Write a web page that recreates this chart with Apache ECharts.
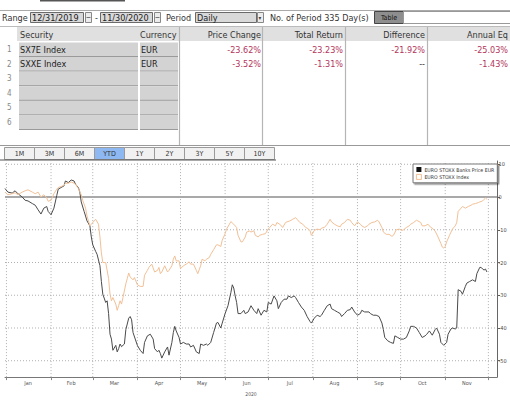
<!DOCTYPE html>
<html><head><meta charset="utf-8">
<script src="https://cdn.jsdelivr.net/npm/echarts@6/dist/echarts.min.js"></script>
<style>html,body{margin:0;padding:0;background:#fff}#c{width:510px;height:401px}</style>
</head><body><div id="c"></div>
<script>
// ---------- data ----------
const seriesNames = ['EURO STOXX Banks Price EUR', 'EURO STOXX Index'];
const monthLabels = ['Jan','Feb','Mar','Apr','May','Jun','Jul','Aug','Sep','Oct','Nov'];
const monthTickDates = ['2020-01-01','2020-02-01','2020-03-01','2020-04-01','2020-05-01','2020-06-01','2020-07-01','2020-08-01','2020-09-01','2020-10-01','2020-11-01','2020-12-01'];
const monthLabelDates = ['2020-01-16','2020-02-15','2020-03-16','2020-04-16','2020-05-16','2020-06-16','2020-07-16','2020-08-16','2020-09-16','2020-10-16','2020-11-16'];
const yTickValues = [10, 0, -10, -20, -30, -40, -50];
const yearLabel = '2020';

const banksDates = ['2019-12-31','2020-01-02','2020-01-05','2020-01-07','2020-01-09','2020-01-12','2020-01-14','2020-01-16','2020-01-19','2020-01-21','2020-01-23','2020-01-25','2020-01-27','2020-01-29','2020-01-30',
'2020-02-01','2020-02-03','2020-02-05','2020-02-06','2020-02-08','2020-02-10','2020-02-11','2020-02-13','2020-02-15','2020-02-17','2020-02-18','2020-02-20','2020-02-21','2020-02-22','2020-02-24','2020-02-25','2020-02-26','2020-02-28','2020-02-29',
'2020-03-01','2020-03-03','2020-03-04','2020-03-06','2020-03-07','2020-03-08','2020-03-10','2020-03-11','2020-03-12','2020-03-13','2020-03-14','2020-03-15','2020-03-17','2020-03-18','2020-03-19','2020-03-20','2020-03-21','2020-03-23','2020-03-24','2020-03-26','2020-03-27','2020-03-28','2020-03-29',
'2020-04-01','2020-04-03','2020-04-05','2020-04-06','2020-04-08','2020-04-10','2020-04-12','2020-04-13','2020-04-15','2020-04-16','2020-04-17','2020-04-18','2020-04-20','2020-04-22','2020-04-23','2020-04-25','2020-04-26','2020-04-27','2020-04-28','2020-04-30',
'2020-05-01','2020-05-03','2020-05-05','2020-05-07','2020-05-08','2020-05-10','2020-05-12','2020-05-14','2020-05-15','2020-05-17','2020-05-19','2020-05-20','2020-05-22','2020-05-24','2020-05-26','2020-05-27','2020-05-29','2020-05-30',
'2020-06-01','2020-06-03','2020-06-05','2020-06-06','2020-06-07','2020-06-08','2020-06-09','2020-06-10','2020-06-12','2020-06-14','2020-06-15','2020-06-17','2020-06-19','2020-06-21','2020-06-23','2020-06-24','2020-06-26','2020-06-28','2020-06-30',
'2020-07-01','2020-07-03','2020-07-05','2020-07-07','2020-07-08','2020-07-10','2020-07-12','2020-07-14','2020-07-15','2020-07-17','2020-07-19','2020-07-20','2020-07-22','2020-07-24','2020-07-26','2020-07-28','2020-07-30','2020-07-31',
'2020-08-02','2020-08-04','2020-08-06','2020-08-07','2020-08-09','2020-08-11','2020-08-13','2020-08-14','2020-08-16','2020-08-18','2020-08-20','2020-08-21','2020-08-23','2020-08-25','2020-08-27','2020-08-28','2020-08-30',
'2020-09-01','2020-09-03','2020-09-04','2020-09-06','2020-09-09','2020-09-10','2020-09-12','2020-09-14','2020-09-16','2020-09-18','2020-09-19','2020-09-20','2020-09-22','2020-09-24','2020-09-26','2020-09-27','2020-09-29',
'2020-10-01','2020-10-03','2020-10-05','2020-10-07','2020-10-08','2020-10-10','2020-10-12','2020-10-14','2020-10-16','2020-10-18','2020-10-19','2020-10-21','2020-10-23','2020-10-25','2020-10-26','2020-10-28','2020-10-29','2020-10-31',
'2020-11-02','2020-11-03','2020-11-05','2020-11-06','2020-11-08','2020-11-09','2020-11-10','2020-11-12','2020-11-13','2020-11-15','2020-11-16','2020-11-18','2020-11-20','2020-11-22','2020-11-23','2020-11-25','2020-11-26','2020-11-27','2020-11-28','2020-11-29','2020-11-30'];
const banksValues = [2.6,1.5,1.2,1.9,1.0,0,-1.0,-1.2,-2.0,-2.5,-3.9,-5.2,-3.4,-2.9,-4.4,
-5.4,-3.4,0.5,2.4,2.9,3.4,4.9,4.4,5.2,4.9,3.9,2.9,1.5,-1.5,-4.4,-5.8,-7.3,-8.8,-12.2,
-14.6,-16.6,-17.5,-21.0,-25.8,-29.7,-32.2,-31.7,-35.6,-41.9,-43.4,-46.8,-45.3,-47.3,-46.3,-44.9,-45.7,-44.9,-40.5,-37.0,-36.5,-37.5,-41.4,
-45.3,-46.8,-47.8,-44.4,-42.4,-41.9,-43.4,-46.3,-47.3,-46.8,-47.8,-49.2,-47.3,-45.8,-48.3,-44.4,-41.4,-39.5,-40.9,-42.9,
-44.9,-44.4,-44.9,-44.9,-45.8,-45.3,-47.3,-47.8,-44.9,-45.3,-44.9,-45.3,-44.4,-41.4,-38.5,-38.3,-40.0,-38.5,
-35.6,-33.2,-29.2,-26.8,-27.8,-30.2,-32.2,-35.6,-35.6,-34.6,-35.6,-35.1,-33.2,-34.6,-35.6,-34.1,-36.1,-34.6,-35.1,
-32.2,-32.7,-30.2,-31.7,-34.1,-32.2,-31.2,-31.2,-30.2,-30.7,-30.2,-30.7,-32.2,-33.6,-34.6,-36.5,-38.0,-38.5,
-37.0,-36.1,-36.5,-36.1,-34.6,-33.2,-32.7,-34.1,-34.6,-35.1,-35.6,-36.5,-35.6,-34.6,-34.4,-33.6,-35.1,
-36.1,-35.6,-34.6,-35.1,-35.1,-35.6,-36.1,-36.1,-36.5,-38.5,-40.5,-42.9,-43.9,-44.4,-44.7,-42.4,-42.9,
-43.4,-43.4,-42.9,-40.9,-39.5,-39.5,-40.0,-41.4,-42.9,-42.4,-42.0,-40.9,-42.2,-40.5,-40.0,-41.9,-44.4,-45.3,
-44.4,-41.9,-40.3,-40.0,-40.3,-40.0,-28.3,-28.8,-29.7,-27.3,-26.3,-25.8,-25.3,-25.8,-23.4,-21.5,-21.5,-22.0,-22.3,-22.0,-22.9];

const indexDates = ['2019-12-31','2020-01-02','2020-01-05','2020-01-07','2020-01-09','2020-01-12','2020-01-14','2020-01-16','2020-01-19','2020-01-21','2020-01-23','2020-01-25','2020-01-27','2020-01-29','2020-01-30',
'2020-02-01','2020-02-03','2020-02-05','2020-02-06','2020-02-08','2020-02-10','2020-02-11','2020-02-13','2020-02-15','2020-02-17','2020-02-18','2020-02-20','2020-02-22','2020-02-23','2020-02-25','2020-02-26','2020-02-28','2020-02-29',
'2020-03-02','2020-03-03','2020-03-05','2020-03-06','2020-03-07','2020-03-08','2020-03-10','2020-03-12','2020-03-13','2020-03-14','2020-03-15','2020-03-17','2020-03-18','2020-03-19','2020-03-20','2020-03-21','2020-03-22','2020-03-24','2020-03-25','2020-03-26','2020-03-27','2020-03-29','2020-03-30',
'2020-04-01','2020-04-03','2020-04-05','2020-04-06','2020-04-08','2020-04-09','2020-04-11','2020-04-13','2020-04-15','2020-04-16','2020-04-17','2020-04-18','2020-04-20','2020-04-22','2020-04-23','2020-04-25','2020-04-26','2020-04-27','2020-04-28','2020-04-30',
'2020-05-01','2020-05-03','2020-05-05','2020-05-07','2020-05-08','2020-05-10','2020-05-12','2020-05-13','2020-05-15','2020-05-16','2020-05-18','2020-05-19','2020-05-21','2020-05-22','2020-05-24','2020-05-26','2020-05-27','2020-05-29','2020-05-30',
'2020-06-01','2020-06-02','2020-06-04','2020-06-05','2020-06-07','2020-06-09','2020-06-10','2020-06-12','2020-06-13','2020-06-15','2020-06-16','2020-06-18','2020-06-19','2020-06-21','2020-06-22','2020-06-24','2020-06-25','2020-06-27','2020-06-29',
'2020-07-01','2020-07-02','2020-07-04','2020-07-06','2020-07-07','2020-07-09','2020-07-11','2020-07-13','2020-07-14','2020-07-16','2020-07-18','2020-07-20','2020-07-21','2020-07-23','2020-07-25','2020-07-27','2020-07-28','2020-07-30','2020-07-31',
'2020-08-02','2020-08-04','2020-08-06','2020-08-07','2020-08-09','2020-08-11','2020-08-13','2020-08-14','2020-08-16','2020-08-18','2020-08-20','2020-08-21','2020-08-23','2020-08-25','2020-08-27','2020-08-28','2020-08-30',
'2020-09-01','2020-09-03','2020-09-04','2020-09-06','2020-09-08','2020-09-09','2020-09-11','2020-09-13','2020-09-15','2020-09-16','2020-09-18','2020-09-19','2020-09-21','2020-09-23','2020-09-25','2020-09-26','2020-09-28','2020-09-30',
'2020-10-02','2020-10-03','2020-10-05','2020-10-07','2020-10-08','2020-10-10','2020-10-12','2020-10-13','2020-10-15','2020-10-16','2020-10-18','2020-10-20','2020-10-22','2020-10-23','2020-10-25','2020-10-27','2020-10-29','2020-10-30','2020-10-31',
'2020-11-01','2020-11-02','2020-11-04','2020-11-06','2020-11-08','2020-11-09','2020-11-10','2020-11-12','2020-11-13','2020-11-15','2020-11-17','2020-11-19','2020-11-20','2020-11-22','2020-11-24','2020-11-25','2020-11-27','2020-11-28','2020-11-29','2020-11-30'];
const indexValues = [1.5,0.7,1.0,1.3,0.7,1.5,1.9,2.2,1.5,1.0,1.5,0.0,0.7,-0.3,-1.3,
-1.0,1.0,2.4,2.9,3.2,3.6,4.2,4.2,4.6,4.2,3.9,2.6,0.7,-1.0,-3.4,-5.8,-8.8,-8.3,
-7.3,-6.8,-8.3,-12.2,-17.1,-20.0,-20.0,-24.9,-29.7,-31.7,-30.7,-32.7,-34.6,-33.2,-31.7,-32.7,-30.7,-26.5,-24.9,-23.2,-24.4,-25.3,-24.6,
-26.8,-27.3,-27.3,-23.9,-22.4,-21.5,-20.5,-22.9,-22.4,-21.5,-23.4,-22.9,-21.0,-22.9,-22.4,-21.0,-19.0,-18.0,-19.5,-19.5,
-21.9,-21.0,-20.5,-19.8,-20.5,-20.5,-22.4,-23.4,-21.0,-19.0,-19.5,-19.0,-18.5,-17.5,-16.1,-14.6,-14.6,-15.1,-13.2,
-11.2,-9.8,-8.3,-7.5,-8.3,-9.3,-11.7,-13.7,-13.7,-12.2,-10.7,-10.4,-10.7,-10.3,-11.7,-12.2,-11.7,-11.4,-11.2,
-9.8,-9.3,-8.3,-8.8,-7.8,-8.3,-9.3,-7.8,-7.6,-7.3,-6.8,-6.3,-6.8,-7.8,-8.3,-9.3,-9.5,-10.2,-11.7,
-10.2,-9.8,-10.0,-9.5,-9.3,-8.3,-6.8,-7.6,-8.3,-8.8,-9.1,-8.3,-7.8,-6.8,-7.1,-7.8,-8.8,
-7.6,-8.3,-8.8,-9.3,-8.8,-8.3,-7.8,-7.6,-7.1,-7.6,-9.3,-10.7,-11.4,-11.4,-12.0,-11.7,-10.0,-9.8,
-10.2,-10.0,-9.3,-8.8,-8.3,-7.8,-7.1,-7.3,-7.8,-8.8,-8.8,-8.3,-9.3,-9.5,-10.4,-12.2,-14.2,-15.3,-15.6,
-15.1,-13.7,-11.7,-9.8,-8.8,-7.8,-4.4,-3.4,-2.9,-3.4,-2.9,-2.5,-2.2,-2.0,-1.7,-1.5,-1.2,-0.7,-0.3,-0.7];

// header / table texts
const rangeStart = '12/31/2019', rangeEnd = '11/30/2020', periodValue = 'Daily', periodCount = 'No. of Period 335 Day(s)';
const tableHeaders = ['Security','Currency','Price Change','Total Return','Difference','Annual Eq'];
const tableRows = [
  ['SX7E Index','EUR','-23.62%','-23.23%','-21.92%','-25.03%'],
  ['SXXE Index','EUR','-3.52%','-1.31%','--','-1.43%']
];
const rowNumbers = ['1','2','3','4','5','6'];
const periodButtons = ['1M','3M','6M','YTD','1Y','2Y','3Y','5Y','10Y'];
const activeButton = 'YTD';

// ---------- helpers ----------
function ts(s){const p=s.split('-').map(Number);return Date.UTC(p[0],p[1]-1,p[2]);}
const F = '"Liberation Sans Narrow","DejaVu Sans Condensed","Liberation Sans",sans-serif';
const G = [];
function rect(x,y,w,h,fill,stroke,lw){G.push({type:'rect',silent:true,shape:{x:x,y:y,width:w,height:h},style:{fill:fill||'none',stroke:stroke||'none',lineWidth:lw||1}});}
function line(x1,y1,x2,y2,stroke,lw){G.push({type:'line',silent:true,shape:{x1:x1,y1:y1,x2:x2,y2:y2},style:{stroke:stroke,lineWidth:lw||1}});}
function text(str,x,y,size,fill,align){G.push({type:'text',silent:true,x:x,y:y,style:{text:str,fill:fill||'#333',font:size+'px '+F,align:align||'left',verticalAlign:'middle',textAlign:align||'left',textVerticalAlign:'middle'}});}

// ---------- top panel ----------
line(40,0.8,125,0.8,'#555',1.5);
line(0,10.5,510,10.5,'#aaa',1);
text('Range',2,18,9,'#333');
rect(30.5,12.5,53,10,'#d9d9d9','#6a6a6a');
text(rangeStart,32,18,9,'#222');
rect(85.5,12.5,6,10,'#ececec','#888'); line(86.5,17.5,90.5,17.5,'#777');
text('-',95,18,9,'#333');
rect(100.5,12.5,52,10,'#d9d9d9','#6a6a6a');
text(rangeEnd,102,18,9,'#222');
rect(154.5,12.5,6,10,'#ececec','#888'); line(155.5,17.5,159.5,17.5,'#777');
text('Period',166,18,9,'#333');
rect(195.5,12.5,61,10,'#d9d9d9','#6a6a6a');
text(periodValue,197,18,9,'#222');
rect(257.5,12.5,6,10,'#ececec','#888'); text('\u25BE',258.5,17.5,6,'#444');
text(periodCount,270,18,9,'#333');
rect(374.5,11.5,29,12,'#8e8e8e','#444');
text('Table',389,17.5,7,'#111','center');
rect(403.5,11.5,110,12,'#fff','#999');
line(0,26.5,510,26.5,'#bbb',1);

// header row
rect(17,27,493,14,'#e0e0e0');
text(tableHeaders[0],20,34.5,9,'#333');
text(tableHeaders[1],140,34.5,9,'#333');
text(tableHeaders[2],261,34.5,9,'#333','right');
text(tableHeaders[3],343,34.5,9,'#333','right');
text(tableHeaders[4],425,34.5,9,'#333','right');
text(tableHeaders[5],508,34.5,9,'#333','right');

// data rows
for(let i=0;i<6;i++){
  const y0 = 42.5 + i*14.6;
  rect(19,y0,119,14,'#d3d3d3');
  rect(140,y0,38,14,'#d3d3d3');
  line(19,y0+14,138,y0+14,'#9a9a9a');
  line(140,y0+14,178,y0+14,'#9a9a9a');
  text(rowNumbers[i],7,y0+7,8,'#888');
  const r = tableRows[i];
  if(r){
    text(r[0],20,y0+7,9,'#222');
    text(r[1],141,y0+7,9,'#222');
    const vc = '#b4345c';
    text(r[2],261,y0+7,9,vc,'right');
    text(r[3],343,y0+7,9,vc,'right');
    text(r[4],425,y0+7,9,r[4]==='--'?'#333':vc,'right');
    text(r[5],508,y0+7,9,vc,'right');
  }
}
[179.5,262.5,345.5,427.5].forEach(function(x){line(x,27,x,145,'#b5b5b5',1.2);});
line(0,145.5,510,145.5,'#999',1);

// period buttons
periodButtons.forEach(function(b,i){
  const x0 = 4.5 + i*30;
  rect(x0,147.5,30,12,b===activeButton?'#8db8f2':'#f1f1f1','#9a9a9a');
  text(b,x0+15,153.8,7,'#333','center');
});
line(0,160,276,160,'#555',1);

// ---------- chart ----------
const monthTicks = monthTickDates.map(ts);
const vGrid = monthTicks.map(function(t){return {type:'line',silent:true,symbol:'none',z:1,
  lineStyle:{color:'#b0b0b0',width:1,type:[1,2]},data:[[t,-55],[t,11]]};});
const hGrid = yTickValues.map(function(v){return {type:'line',silent:true,symbol:'none',z:v===0?2:1,
  lineStyle:v===0?{color:'#a9a9a9',width:2,type:'solid'}:{color:'#b0b0b0',width:1,type:[1,2]},
  data:[[ts('2019-12-31'),v],[ts('2020-12-07'),v]]};});

const chart = echarts.init(document.getElementById('c'), null, {renderer:'svg'});
chart.setOption({
  animation:false,
  graphic:{elements:G},
  grid:{left:5,right:13,top:161,bottom:14.6},
  legend:{
    orient:'vertical', left:413, top:164, padding:[3,3,3,3], itemGap:2,
    itemWidth:5, itemHeight:5, backgroundColor:'#fff', borderColor:'#777', borderWidth:1,
    shadowColor:'rgba(0,0,0,0.45)', shadowBlur:1, shadowOffsetX:1.5, shadowOffsetY:1.5,
    textStyle:{fontSize:5.2,color:'#333',padding:[0,0,0,-2],fontFamily:F},
    data:[
      {name:seriesNames[0],icon:'rect',itemStyle:{color:'#111'}},
      {name:seriesNames[1],icon:'rect',itemStyle:{color:'#fff',borderColor:'#efae78',borderWidth:0.8}}
    ]
  },
  xAxis:{
    type:'value', min:ts('2019-12-31'), max:ts('2020-12-07'),
    axisLine:{show:true,onZero:false,lineStyle:{color:'#777',width:1}},
    axisTick:{show:true,customValues:monthTicks,length:3,lineStyle:{color:'#888'}},
    axisLabel:{customValues:monthLabelDates.map(ts),formatter:function(v){return monthLabels[new Date(v).getUTCMonth()];},fontSize:5.5,color:'#555',margin:3,fontFamily:F},
    splitLine:{show:false},
    name:yearLabel, nameLocation:'middle', nameGap:10, nameTextStyle:{fontSize:5,color:'#555',fontFamily:F}
  },
  yAxis:{
    type:'value', position:'right', min:-55, max:11,
    axisLine:{show:true,lineStyle:{color:'#666',width:1}},
    axisTick:{show:true,customValues:yTickValues,length:3,lineStyle:{color:'#666'}},
    axisLabel:{customValues:yTickValues,fontSize:5.5,color:'#444',margin:1.5,fontFamily:F},
    splitLine:{show:false}
  },
  series: vGrid.concat(hGrid).concat([
    {type:'line',name:seriesNames[0],z:3,showSymbol:false,symbol:'none',
     lineStyle:{color:'#4a4a4a',width:1},itemStyle:{color:'#4a4a4a'},
     data:banksDates.map(function(d,i){return [ts(d),banksValues[i]];})},
    {type:'line',name:seriesNames[1],z:4,showSymbol:false,symbol:'none',
     lineStyle:{color:'#f2c096',width:1},itemStyle:{color:'#f2c096'},
     data:indexDates.map(function(d,i){return [ts(d),indexValues[i]];})}
  ])
});
</script></body></html>
